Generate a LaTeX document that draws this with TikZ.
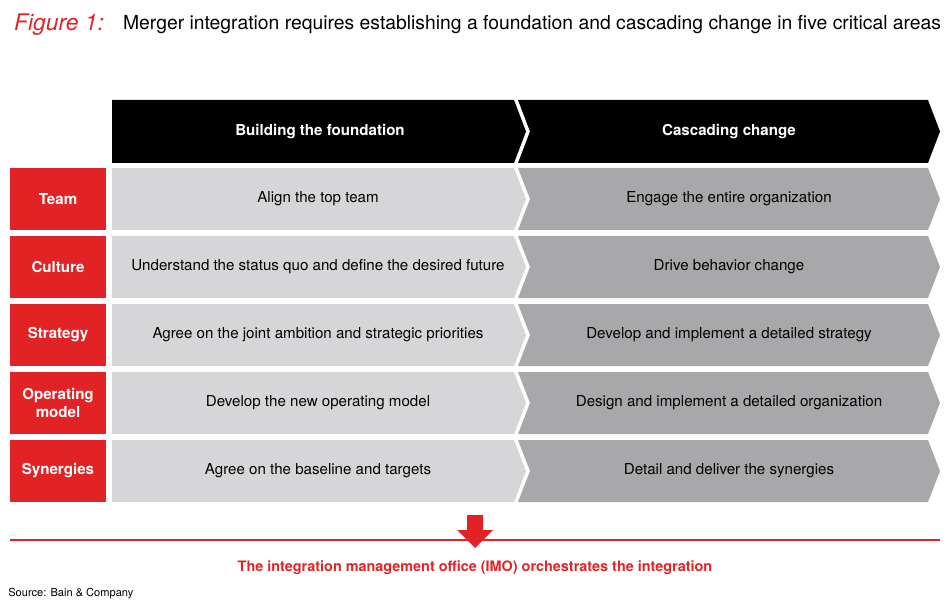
\documentclass[tikz,border=0pt]{standalone}
\usepackage{fontspec}
\setmainfont{TeX Gyre Heros}
\usetikzlibrary{positioning}
\definecolor{bainred}{RGB}{226,35,38}
\definecolor{lightg}{RGB}{214,214,216}
\definecolor{darkg}{RGB}{168,168,171}
\tikzset{
  cell/.style={font=\fontsize{8.6}{10}\selectfont, text=black, align=center},
  areabox/.style={fill=bainred, text=white, font=\fontsize{8.6}{10}\selectfont\bfseries,
    minimum width=1.92cm, minimum height=1.24cm, inner sep=0pt, align=center},
  headtext/.style={text=white, font=\fontsize{8.6}{10}\selectfont\bfseries}
}
\begin{document}
\begin{tikzpicture}[x=0.02cm, y=-0.02cm]
  \useasboundingbox (0,0) rectangle (950,611);
  % title
  \node[anchor=west, text=bainred, font=\fontsize{13}{15}\selectfont\itshape\rmfamily] (fig) at (8,25) {Figure 1:};
  \node[anchor=west, font=\fontsize{11}{13}\selectfont, inner sep=1pt] (title) at (121,25)
    {Merger integration requires establishing a foundation and cascading change in five critical areas};
  % header chevrons
  \fill[black] (112,100) -- (514,100) -- (526,131.5) -- (514,163) -- (112,163) -- cycle;
  \fill[black] (518,100) -- (928,100) -- (940,131.5) -- (928,163) -- (518,163) -- (530,131.5) -- cycle;
  \node[headtext] (hfound) at (320,131.5) {Building the foundation};
  \node[headtext] (hcasc) at (729,131.5) {Cascading change};
  % rows
  \foreach \y/\area/\left/\right [count=\i] in {
      199/Team/Align the top team/Engage the entire organization,
      267/Culture/Understand the status quo and define the desired future/Drive behavior change,
      335/Strategy/Agree on the joint ambition and strategic priorities/Develop and implement a detailed strategy,
      403/{Operating\\model}/Develop the new operating model/Design and implement a detailed organization,
      471/Synergies/Agree on the baseline and targets/Detail and deliver the synergies} {
    \fill[lightg] (112,\y-31) -- (514,\y-31) -- (526,\y) -- (514,\y+31) -- (112,\y+31) -- cycle;
    \fill[darkg] (518,\y-31) -- (928,\y-31) -- (940,\y) -- (928,\y+31) -- (518,\y+31) -- (530,\y) -- cycle;
    \node[areabox] (area\i) at (58,\y) {\area};
    \node[cell] (left\i) at (318,\y) {\left};
    \node[cell] (right\i) at (729,\y) {\right};
  }
  % IMO
  \coordinate (lineL) at (10,540);
  \coordinate (lineR) at (940,540);
  \draw[bainred, line width=0.6pt] (lineL) -- (lineR);
  \fill[bainred] (467,515) -- (483,515) -- (483,530) -- (493,530) -- (475,548) -- (457,530) -- (467,530) -- cycle;
  \node[text=bainred, font=\fontsize{8.2}{10}\selectfont\bfseries] (imo) at (475,568)
    {The integration management office (IMO) orchestrates the integration};
  \node[anchor=west, font=\fontsize{6.3}{8}\selectfont, inner sep=0pt] (src) at (8,594) {Source: Bain \& Company};
\end{tikzpicture}
\end{document}
